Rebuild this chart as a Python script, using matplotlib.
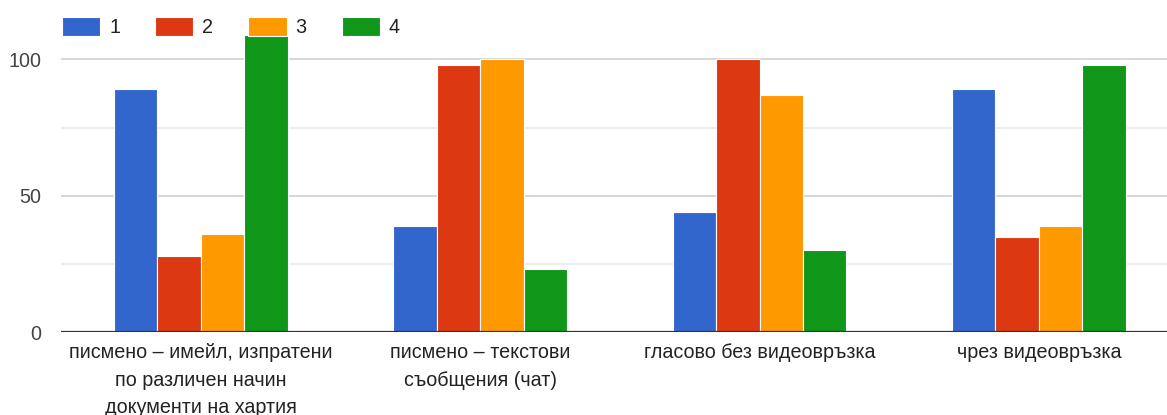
import numpy as np
import matplotlib
matplotlib.use("Agg")
import matplotlib.pyplot as plt

plt.rcParams['font.family'] = ['Liberation Sans', 'DejaVu Sans']

categories = [
    "писмено – имейл, изпратени\nпо различен начин\nдокументи на хартия",
    "писмено – текстови\nсъобщения (чат)",
    "гласово без видеовръзка",
    "чрез видеовръзка",
]
series_names = ["1", "2", "3", "4"]
values_1 = [89, 39, 44, 89]
values_2 = [28, 98, 100, 35]
values_3 = [36, 100, 87, 39]
values_4 = [109, 23, 30, 98]
colors = ["#3366cc", "#dc3912", "#ff9900", "#109618"]

all_values = [values_1, values_2, values_3, values_4]

fig = plt.figure(figsize=(11.67, 4.15), dpi=100)
ax = fig.add_axes([0.0523, 0.1993, 0.9477, 0.8007])

x = np.arange(len(categories))
w = 0.1557
for i, (vals, name, col) in enumerate(zip(all_values, series_names, colors)):
    ax.bar(x + (i - 1.5) * w, vals, w, color=col, label=name,
           edgecolor="white", linewidth=0.8, zorder=3)

ax.set_xlim(-0.501, 3.459)
ax.set_ylim(0, 121.7)

# gridlines: minor at 25/75, major at 50/100
for g in [25, 75]:
    ax.axhline(g, color="#ebebeb", linewidth=1.3, zorder=1)
for g in [50, 100]:
    ax.axhline(g, color="#d4d4d4", linewidth=1.3, zorder=1)
ax.axhline(0, color="#333333", linewidth=1.6, zorder=4)

fs = 14.2
ax.set_yticks([0, 50, 100])
ax.set_yticklabels(["0", "50", "100"])
ax.set_xticks(x)
ax.set_xticklabels(categories, linespacing=1.56)
ax.tick_params(axis="y", length=0, pad=14, labelsize=fs, labelcolor="#444444")
ax.tick_params(axis="x", length=0, pad=8, labelsize=fs, labelcolor="#222222")
for s in ax.spines.values():
    s.set_visible(False)

leg = ax.legend(loc="upper left", bbox_to_anchor=(62 / 1167, 1 - 17 / 415),
                bbox_transform=fig.transFigure,
                ncol=4, frameon=False, fontsize=fs, handlelength=1.93, handleheight=1.1,
                handletextpad=0.46, columnspacing=1.78, borderaxespad=0, borderpad=0)
for t in leg.get_texts():
    t.set_color("#222222")

fig.savefig("out.png", dpi=100)
